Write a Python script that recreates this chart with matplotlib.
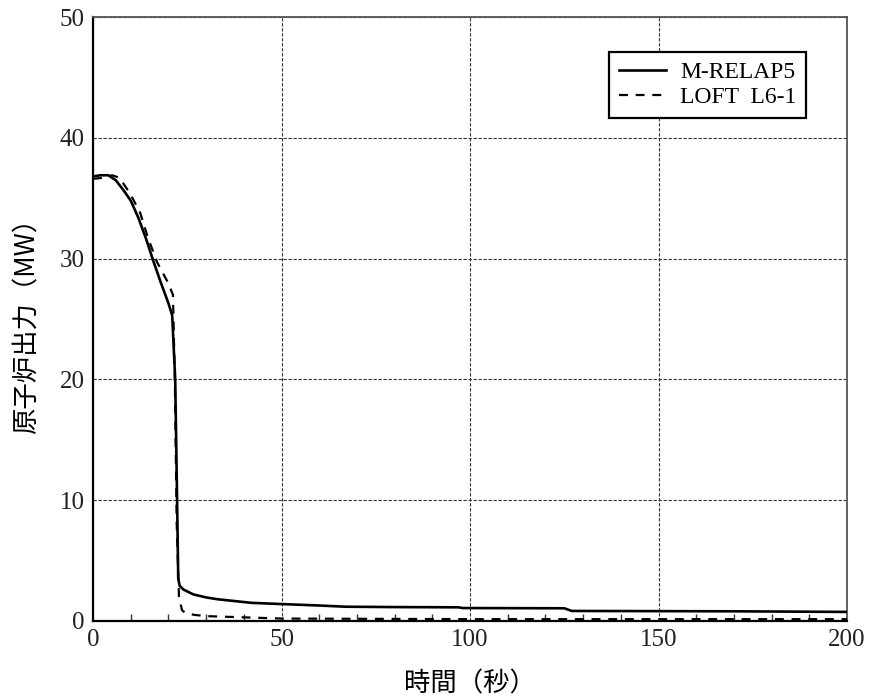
import matplotlib
matplotlib.use('Agg')
import matplotlib.pyplot as plt
from matplotlib.ticker import MultipleLocator

# M-RELAP5 (solid)
t_relap = [0, 2, 4, 6, 8, 10, 12, 14, 16, 18, 20, 21, 21.8, 22.3, 22.6, 23, 24, 26.6,
           30, 33, 42, 50, 60, 67, 80, 97, 98, 125, 127, 170, 200]
p_relap = [36.8, 36.9, 36.9, 36.5, 35.7, 34.8, 33.4, 31.7, 29.8, 28.0, 26.3, 25.3, 20.0,
           10.0, 3.5, 2.9, 2.6, 2.2, 1.95, 1.8, 1.5, 1.4, 1.28, 1.18, 1.15, 1.13, 1.07,
           1.05, 0.83, 0.8, 0.75]

# LOFT L6-1 (dashed)
t_loft = [0, 3, 5, 7, 9.8, 12.5, 14.6, 17, 19.9, 21.2, 21.7, 22.2, 22.8, 23.6, 24.5,
          27, 30, 40, 50, 100, 200]
p_loft = [36.6, 36.7, 36.9, 36.7, 35.4, 33.8, 31.7, 29.7, 28.0, 27.0, 20.0, 8.0, 2.0,
          0.9, 0.65, 0.5, 0.4, 0.3, 0.2, 0.15, 0.15]

jp = ['Noto Sans CJK JP', 'DejaVu Sans']
serif = 'Liberation Serif'

fig = plt.figure(figsize=(8.71, 7.00), dpi=100)
ax = fig.add_axes([0.1068, 0.1129, 0.8657, 0.8628])

ax.plot(t_relap, p_relap, color='black', lw=1.9, label='M-RELAP5', zorder=3)
ax.plot(t_loft, p_loft, color='black', lw=1.6, ls=(0, (4, 3.5)), label='LOFT  L6-1', zorder=3)

ax.set_xlim(0, 200)
ax.set_ylim(0, 50)
ax.xaxis.set_major_locator(MultipleLocator(50))
ax.xaxis.set_minor_locator(MultipleLocator(10))
ax.yaxis.set_major_locator(MultipleLocator(10))
ax.tick_params(which='major', length=0, pad=6)
ax.tick_params(axis='x', which='minor', direction='in', length=5, width=1, color='#333333')
ax.tick_params(axis='y', which='minor', length=0)
for lab in ax.get_xticklabels() + ax.get_yticklabels():
    lab.set_fontfamily(serif)
    lab.set_fontsize(18)
    lab.set_color('#222222')

ax.grid(True, which='major', color='#333333', ls=(0, (3, 1.5)), lw=0.8)

for s in ['left', 'bottom']:
    ax.spines[s].set_linewidth(1.6)
    ax.spines[s].set_color('black')
for s in ['top', 'right']:
    ax.spines[s].set_linewidth(1.3)
    ax.spines[s].set_color('#555555')

ax.set_xlabel('時間（秒）', family=jp, fontsize=19, labelpad=14)
ax.set_ylabel('原子炉出力（MW）', family=jp, fontsize=19, labelpad=14)

leg = ax.legend(loc='upper right', bbox_to_anchor=(0.9456, 0.942), borderaxespad=0,
                prop={'family': serif, 'size': 17},
                frameon=True, fancybox=False, edgecolor='black', framealpha=1,
                handlelength=2.0, handletextpad=0.6, borderpad=0.4, labelspacing=0.15)
leg.get_frame().set_linewidth(1.6)

fig.savefig('out.png', dpi=100)
